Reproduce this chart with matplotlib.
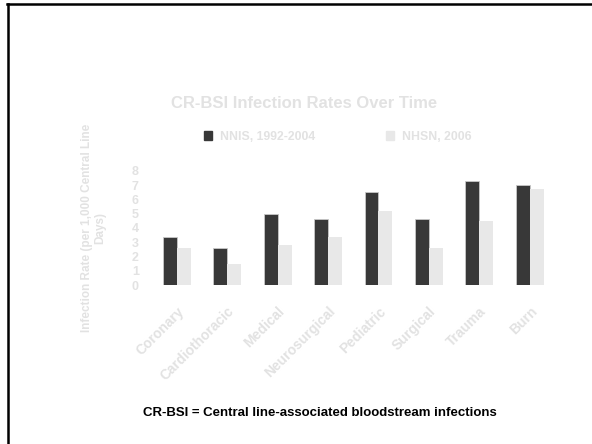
import numpy as np
import matplotlib
matplotlib.use('Agg')
import matplotlib.pyplot as plt
from matplotlib.lines import Line2D

# 데이터
units = ['Coronary', 'Cardiothoracic', 'Medical', 'Neurosurgical',
         'Pediatric', 'Surgical', 'Trauma', 'Burn']
nnis = [3.4, 2.6, 5.0, 4.6, 6.5, 4.6, 7.3, 7.0]
nhsn = [2.6, 1.5, 2.8, 3.4, 5.2, 2.6, 4.5, 6.7]
series_names = ['NNIS, 1992-2004', 'NHSN, 2006']
yticks = [0, 1, 2, 3, 4, 5, 6, 7, 8]

plt.rcParams['font.family'] = ['Liberation Sans', 'DejaVu Sans']
faint = '#e2e2e2'
dark = '#383838'
light = '#e8e8e8'

fig = plt.figure(figsize=(5.92, 4.44), dpi=100)
ax = fig.add_axes([0.2557, 0.358, 0.682, 0.257])

x = np.arange(len(units))
w = 0.277
ax.bar(x - w / 2, nnis, w, color=dark, edgecolor='#c8c8c8', linewidth=0.6, label=series_names[0])
ax.bar(x + w / 2, nhsn, w, color=light, label=series_names[1])

ax.set_xlim(-0.5, len(units) - 0.5)
ax.set_ylim(0, 8)
ax.set_yticks(yticks)
ax.set_yticklabels([str(t) for t in yticks], color=faint, fontsize=9, fontweight='bold')
ax.set_xticks(x)
ax.set_xticklabels(units, rotation=45, ha='right', rotation_mode='anchor',
                   color=faint, fontsize=10, fontweight='bold')
ax.tick_params(axis='x', length=0, pad=14)
ax.tick_params(axis='y', length=0, pad=9)
for s in ax.spines.values():
    s.set_visible(False)

ax.set_ylabel('Infection Rate (per 1,000 Central Line\nDays)', color=faint,
              fontsize=8.5, fontweight='bold', labelpad=18)

fig.text(0.513, 0.768, 'CR-BSI Infection Rates Over Time', ha='center', va='center',
         color=faint, fontsize=12, fontweight='bold')

handles = [plt.Rectangle((0, 0), 1, 1, color=dark), plt.Rectangle((0, 0), 1, 1, color=light)]
fig.legend(handles, series_names, loc='center', bbox_to_anchor=(0.57, 0.692), ncol=2,
           frameon=False, labelcolor=faint, handlelength=0.7, handleheight=0.7,
           columnspacing=5.8, handletextpad=0.6, prop={'weight': 'bold', 'size': 8.8})

fig.text(0.54, 0.07, 'CR-BSI = Central line-associated bloodstream infections',
         ha='center', va='center', color='black', fontsize=9.5, fontweight='bold')

# 슬라이드 테두리
fig.add_artist(Line2D([7 / 592, 1], [1 - 4 / 444, 1 - 4 / 444], color='black', lw=1.8,
                      transform=fig.transFigure))
fig.add_artist(Line2D([8 / 592, 8 / 592], [0, 1 - 4 / 444], color='black', lw=1.8,
                      transform=fig.transFigure))

fig.savefig('out.png', dpi=100)
